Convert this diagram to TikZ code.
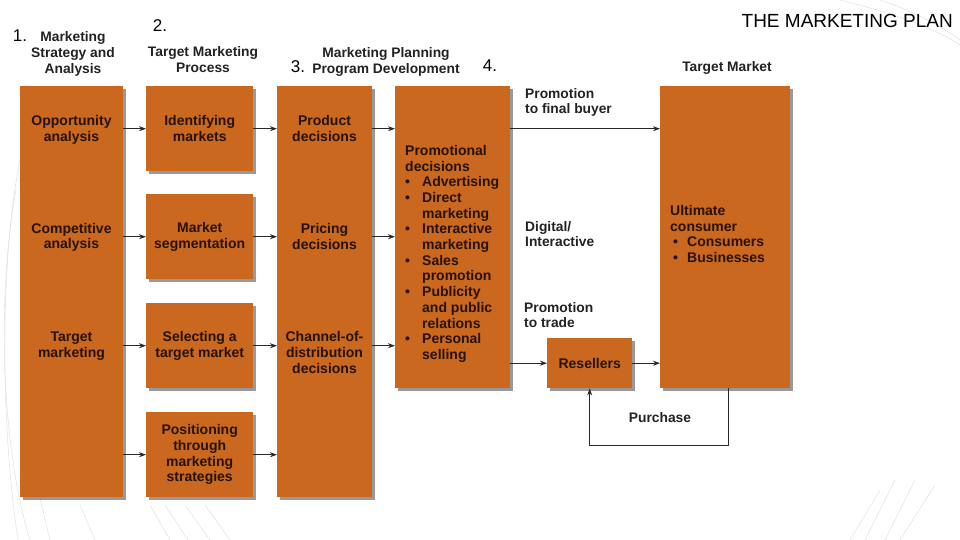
\documentclass[tikz,border=0pt]{standalone}
\usepackage{fontspec}
\setmainfont{Liberation Sans}
\usetikzlibrary{arrows.meta,shadows}
\definecolor{boxorange}{RGB}{201,104,30}
\definecolor{boxtext}{RGB}{40,18,6}
\definecolor{headtext}{RGB}{34,34,34}
\definecolor{linecol}{RGB}{40,40,40}
\definecolor{decor}{RGB}{222,222,222}
\begin{document}
\begin{tikzpicture}[x=1pt,y=-1pt,
  box/.style={fill=boxorange,draw=none,anchor=north west,inner sep=0pt,
    drop shadow={shadow xshift=3pt,shadow yshift=-3pt,fill=black,opacity=0.4}},
  btxt/.style={font=\fontsize{14}{15.7}\selectfont\bfseries,text=boxtext,align=center,inner sep=0pt},
  ltxt/.style={font=\fontsize{14}{15.7}\selectfont\bfseries,text=boxtext,align=left,inner sep=0pt,anchor=north west},
  htxt/.style={font=\fontsize{13.8}{16}\selectfont\bfseries,text=headtext,align=center,inner sep=0pt},
  lbl/.style={font=\fontsize{13.8}{15.6}\selectfont\bfseries,text=headtext,align=left,inner sep=0pt,anchor=north west},
  num/.style={font=\fontsize{17}{17}\selectfont,text=black,inner sep=0pt},
  arr/.style={draw=linecol,line width=0.9pt,-{Stealth[length=7pt,width=5pt]}},
  deco/.style={draw=decor,line width=0.45pt}
]
\useasboundingbox (0,0) rectangle (960,540);
\fill[white] (0,0) rectangle (960,540);
% faint template decoration
\draw[deco] (20,160) .. controls (0,260) and (0,420) .. (18,540);
\draw[deco] (16,190) .. controls (-4,300) and (2,450) .. (30,540);
\draw[deco] (38,490) -- (50,540);
\draw[deco] (80,505) -- (95,540);
\draw[deco] (150,505) -- (170,540);
\draw[deco] (165,505) -- (188,540);
\draw[deco] (185,505) -- (210,540);
\draw[deco] (205,505) -- (230,540);
\draw[deco] (850,540) -- (880,490);
\draw[deco] (865,540) -- (895,480);
\draw[deco] (885,540) -- (915,480);
\draw[deco] (900,540) -- (935,485);
\draw[deco] (840,0) .. controls (880,10) and (930,25) .. (960,45);
\draw[deco] (880,0) .. controls (910,10) and (940,25) .. (960,40);

% boxes
\node[box,minimum width=103pt,minimum height=411pt] (c1) at (20,86) {};
\node[box,minimum width=107pt,minimum height=85pt] (m1) at (146,86) {};
\node[box,minimum width=107pt,minimum height=85pt] (m2) at (146,194) {};
\node[box,minimum width=107pt,minimum height=85pt] (m3) at (146,303) {};
\node[box,minimum width=107pt,minimum height=85pt] (m4) at (146,412) {};
\node[box,minimum width=95pt,minimum height=411pt] (c3) at (277,86) {};
\node[box,minimum width=115pt,minimum height=302pt] (c4) at (395,86) {};
\node[box,minimum width=130pt,minimum height=302pt] (tm) at (660,86) {};
\node[box,minimum width=85pt,minimum height=50pt] (res) at (547,338) {};

% box texts
\node[btxt] (t1a) at (71.5,130) {Opportunity\\analysis};
\node[btxt] (t1b) at (71.5,237.5) {Competitive\\analysis};
\node[btxt] (t1c) at (71.5,346) {Target\\marketing};
\node[btxt] (t2a) at (m1.center) {Identifying\\markets};
\node[btxt] (t2b) at (m2.center) {Market\\segmentation};
\node[btxt] (t2c) at (m3.center) {Selecting a\\target market};
\node[btxt] (t2d) at (m4.center) {Positioning\\through\\marketing\\strategies};
\node[btxt] (t3a) at (324.5,128.5) {Product\\decisions};
\node[btxt] (t3b) at (324.5,236.5) {Pricing\\decisions};
\node[btxt] (t3c) at (324.5,352.5) {Channel-of-\\distribution\\decisions};
\node[ltxt] (t4) at (405,145) {Promotional\\decisions\\
\makebox[17pt][l]{•}Advertising\\
\makebox[17pt][l]{•}Direct\\
\hspace*{17pt}marketing\\
\makebox[17pt][l]{•}Interactive\\
\hspace*{17pt}marketing\\
\makebox[17pt][l]{•}Sales\\
\hspace*{17pt}promotion\\
\makebox[17pt][l]{•}Publicity\\
\hspace*{17pt}and public\\
\hspace*{17pt}relations\\
\makebox[17pt][l]{•}Personal\\
\hspace*{17pt}selling};
\node[ltxt] (t5) at (670,205) {Ultimate\\consumer\\
\hspace*{3pt}\makebox[14pt][l]{•}Consumers\\
\hspace*{3pt}\makebox[14pt][l]{•}Businesses};
\node[btxt] (tres) at (res.center) {Resellers};

% headers
\node[htxt] (h1) at (73,54) {Marketing\\Strategy and\\Analysis};
\node[htxt] (h2) at (203,59.5) {Target Marketing\\Process};
\node[htxt] (h3) at (386,61.5) {Marketing Planning\\Program Development};
\node[htxt] (h4) at (727,68) {Target Market};
\node[num] (n1) at (20,36) {1.};
\node[num] (n2) at (160,26) {2.};
\node[num] (n3) at (298,67) {3.};
\node[num] (n4) at (490,66) {4.};
\node[font=\fontsize{19}{19}\selectfont,text=black,inner sep=0pt,anchor=east] (title) at (953,20.5) {THE MARKETING PLAN};

% channel labels
\node[lbl] (l1) at (525,88) {Promotion\\to final buyer};
\node[lbl] (l2) at (525,221) {Digital/\\Interactive};
\node[lbl] (l3) at (524,302) {Promotion\\to trade};
\node[htxt] (lp) at (660,418) {Purchase};

% arrows col1 -> col2
\draw[arr] (m1 -| c1.east) -- (m1.west);
\draw[arr] (m2 -| c1.east) -- (m2.west);
\draw[arr] (m3 -| c1.east) -- (m3.west);
\draw[arr] (m4 -| c1.east) -- (m4.west);
% col2 -> col3
\draw[arr] (m1.east) -- (m1 -| c3.west);
\draw[arr] (m2.east) -- (m2 -| c3.west);
\draw[arr] (m3.east) -- (m3 -| c3.west);
\draw[arr] (m4.east) -- (m4 -| c3.west);
% col3 -> col4
\draw[arr] (m1 -| c3.east) -- (m1 -| c4.west);
\draw[arr] (m2 -| c3.east) -- (m2 -| c4.west);
\draw[arr] (m3 -| c3.east) -- (m3 -| c4.west);
% col4 -> target
\draw[arr] (m1 -| c4.east) -- (m1 -| tm.west);
\draw[arr] (res -| c4.east) -- (res.west);
\draw[arr] (res.east) -- (res -| tm.west);
% purchase loop
\coordinate (pk) at (728,445);
\draw[arr] (tm.south -| pk) -- (pk) -| (res.south);
\end{tikzpicture}
\end{document}
